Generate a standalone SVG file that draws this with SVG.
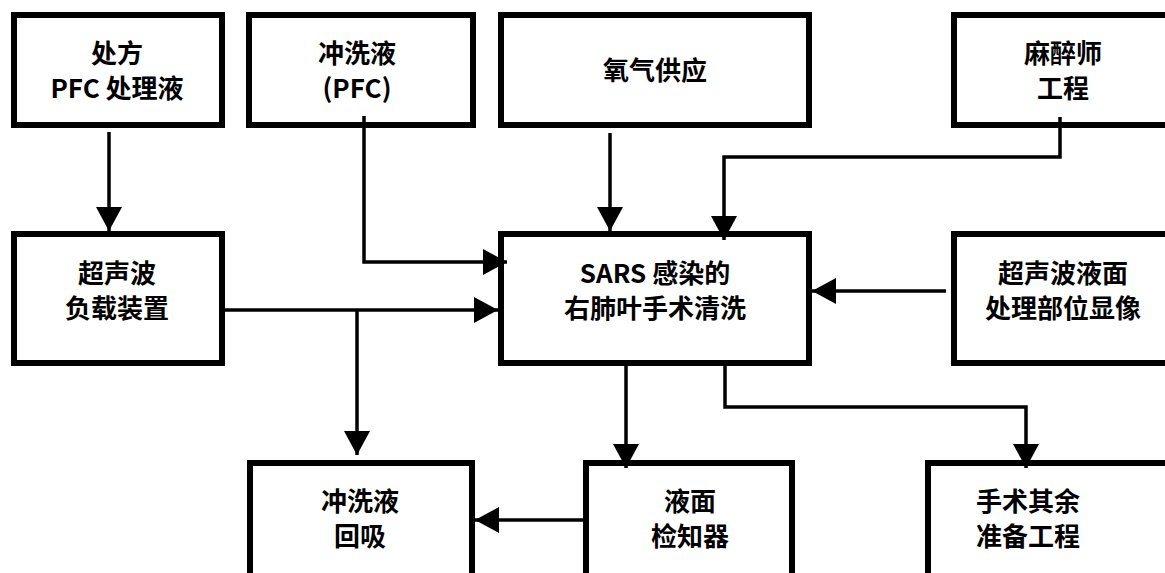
<svg xmlns="http://www.w3.org/2000/svg" width="1165" height="573" viewBox="0 0 1165 573">
<style>
.box{fill:#fff;stroke:#000;stroke-width:6}
.t{font-family:"Noto Sans CJK SC","Liberation Sans",sans-serif;font-weight:bold;font-size:26px;text-anchor:middle;fill:#000}
.c{fill:none;stroke:#000;stroke-width:3.5}
</style>
<defs>
<marker id="ah" viewBox="0 0 24 26" refX="24" refY="13" markerWidth="24" markerHeight="26" markerUnits="userSpaceOnUse" orient="auto">
<path d="M0,0 L24,13 L0,26 z" fill="#000"/>
</marker>
</defs>
<rect width="1165" height="573" fill="#fff"/>
<g id="n1"><rect class="box" x="14" y="15" width="208" height="110"/><text class="t" x="117" y="63">处方</text><text class="t" x="117" y="98">PFC 处理液</text></g>
<g id="n2"><rect class="box" x="249" y="15" width="224" height="110"/><text class="t" x="357" y="63">冲洗液</text><text class="t" x="357" y="98">(PFC)</text></g>
<g id="n3"><rect class="box" x="501" y="15" width="308" height="110"/><text class="t" x="655" y="80">氧气供应</text></g>
<g id="n4"><rect class="box" x="954" y="15" width="220" height="110"/><text class="t" x="1063" y="63">麻醉师</text><text class="t" x="1063" y="98">工程</text></g>
<g id="n5"><rect class="box" x="14" y="234" width="208" height="129"/><text class="t" x="117" y="283">超声波</text><text class="t" x="117" y="318">负载装置</text></g>
<g id="n6"><rect class="box" x="501" y="234" width="308" height="129"/><text class="t" x="655" y="283">SARS 感染的</text><text class="t" x="655" y="318">右肺叶手术清洗</text></g>
<g id="n7"><rect class="box" x="954" y="234" width="220" height="129"/><text class="t" x="1063" y="283">超声波液面</text><text class="t" x="1063" y="318">处理部位显像</text></g>
<g id="n8"><rect class="box" x="250" y="463" width="222" height="120"/><text class="t" x="360" y="511">冲洗液</text><text class="t" x="360" y="546">回吸</text></g>
<g id="n9"><rect class="box" x="586" y="463" width="206" height="120"/><text class="t" x="690" y="511">液面</text><text class="t" x="690" y="546">检知器</text></g>
<g id="n10"><rect class="box" x="928" y="463" width="245" height="120"/><text class="t" x="1028" y="511">手术其余</text><text class="t" x="1028" y="546">准备工程</text></g>
<g id="connectors">
<path class="c" d="M109,132 V231" marker-end="url(#ah)"/>
<path class="c" d="M364,116 V262 H507" marker-end="url(#ah)"/>
<path class="c" d="M225,310 H498" marker-end="url(#ah)"/>
<path class="c" d="M357,310 V455" marker-end="url(#ah)"/>
<path class="c" d="M610,133 V231" marker-end="url(#ah)"/>
<path class="c" d="M1060,117 V157 H724 V240" marker-end="url(#ah)"/>
<path class="c" d="M946,291 H812" marker-end="url(#ah)"/>
<path class="c" d="M626,366 V468" marker-end="url(#ah)"/>
<path class="c" d="M725,366 V407 H1026 V468" marker-end="url(#ah)"/>
<path class="c" d="M583,520 H475" marker-end="url(#ah)"/>
</g>
</svg>
